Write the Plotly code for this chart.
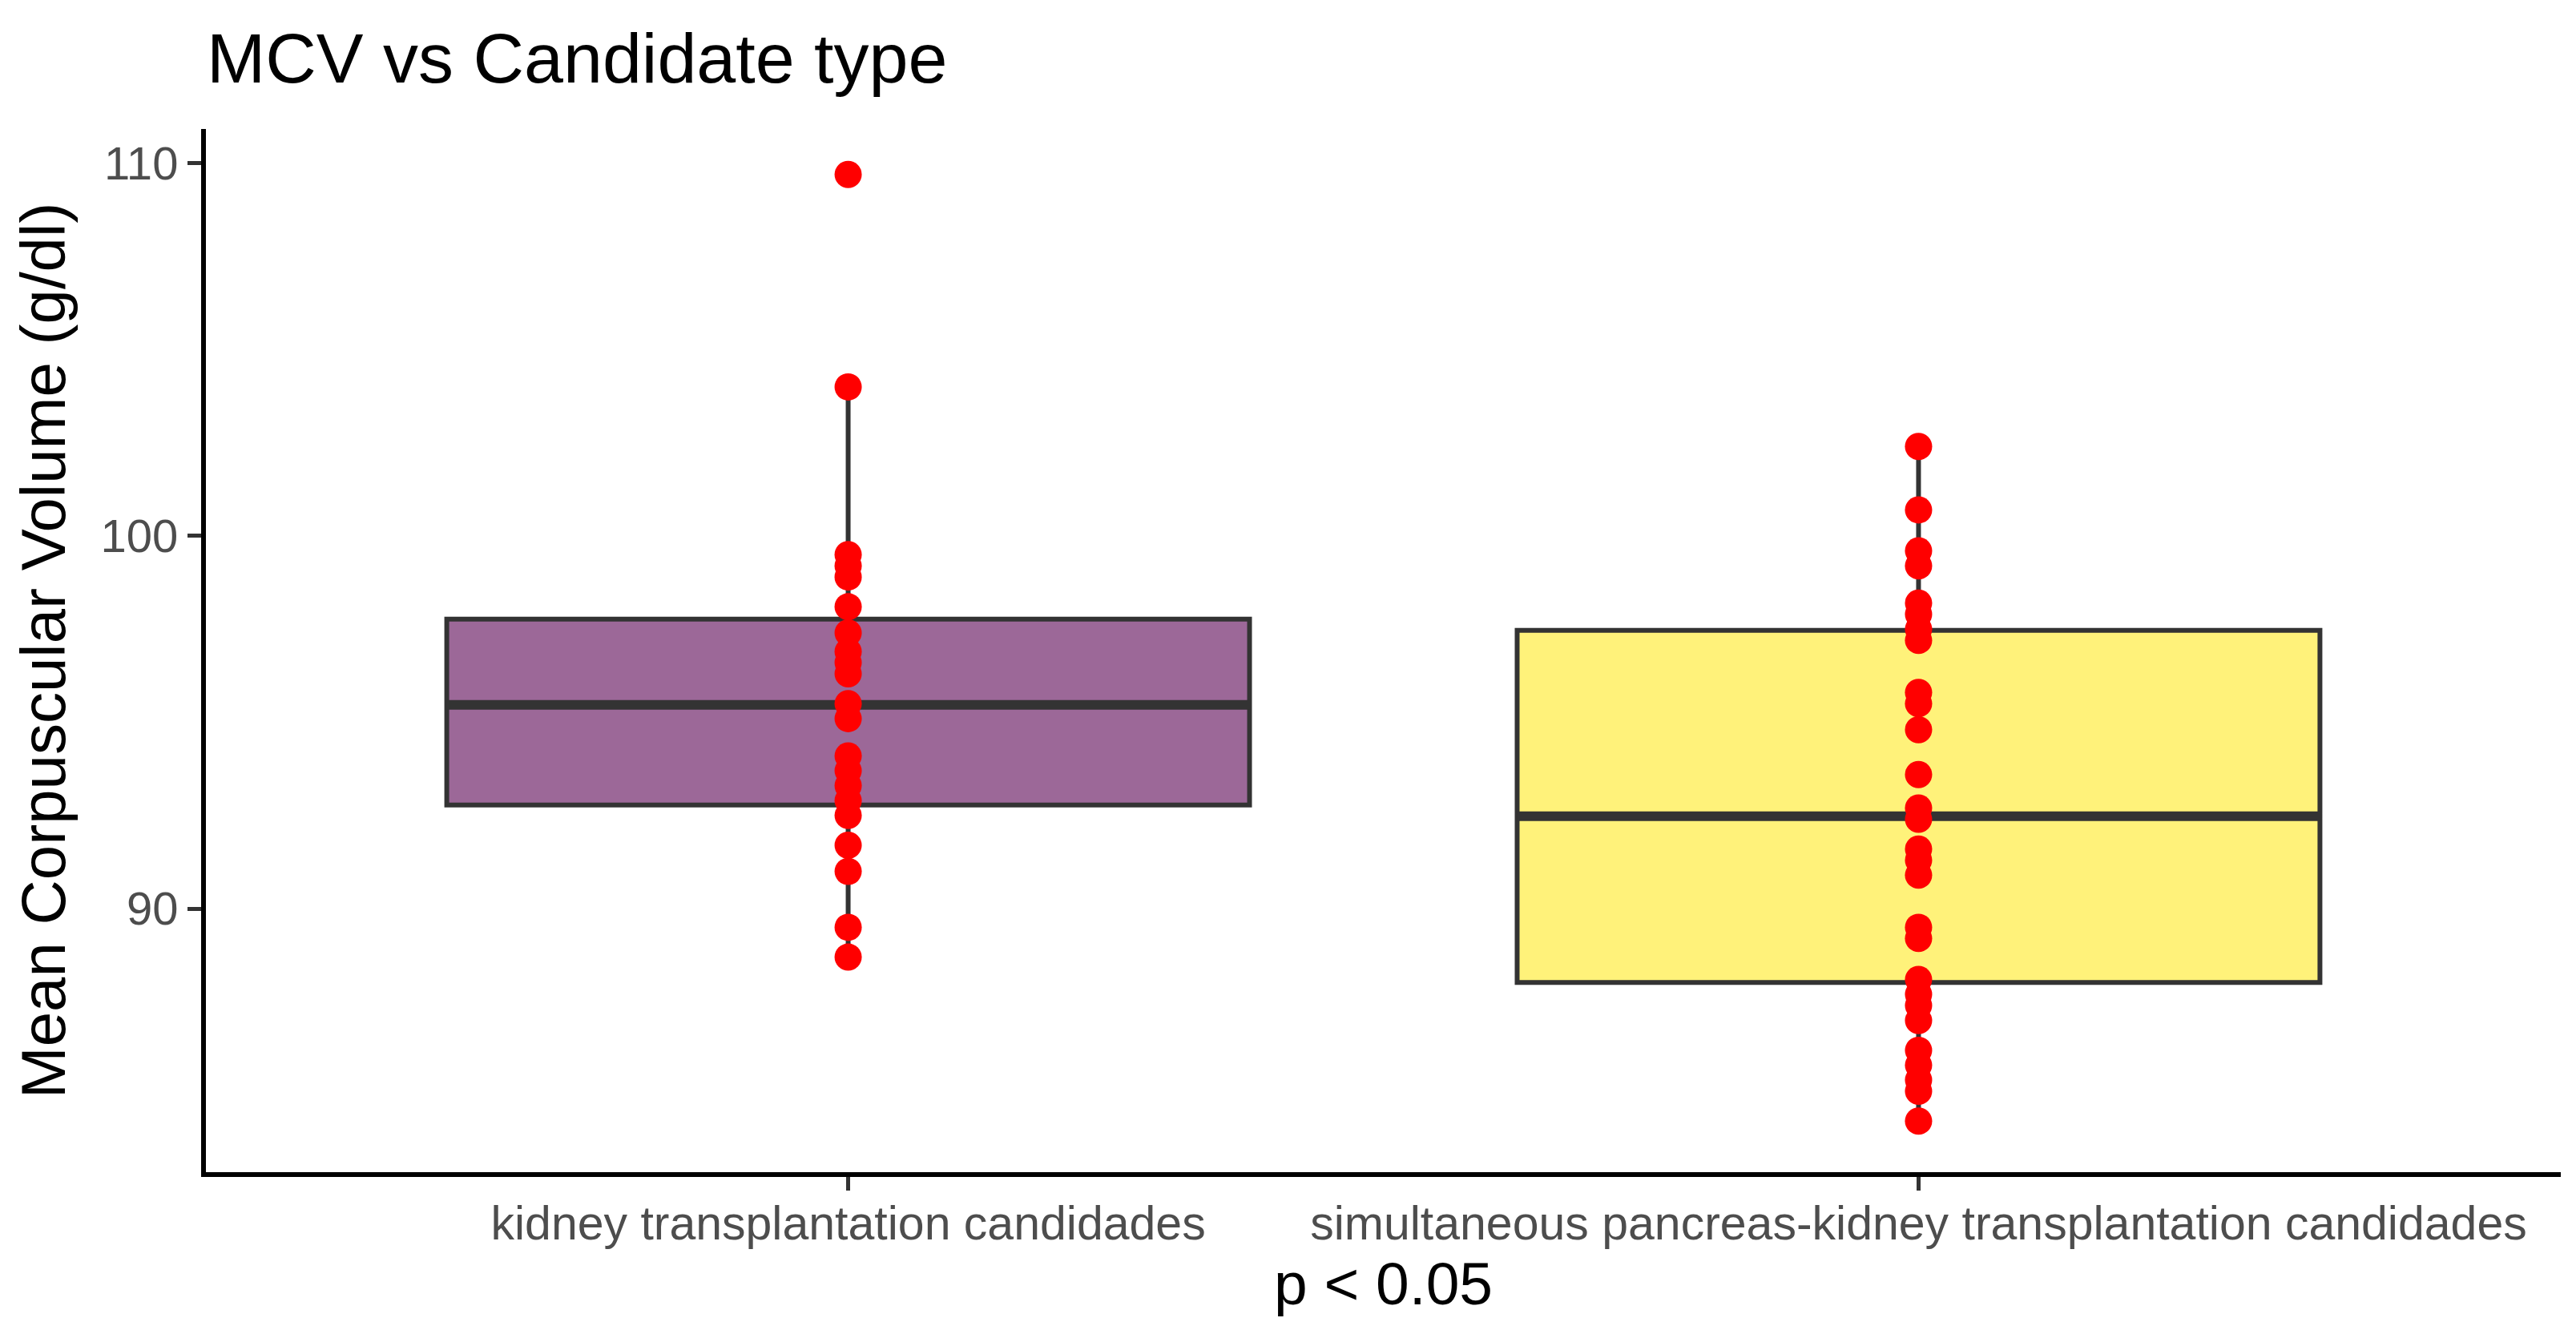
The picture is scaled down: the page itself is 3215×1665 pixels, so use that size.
"""MCV by candidate type: box summary with the raw points on top."""
import plotly.graph_objects as go

FONT = "Liberation Sans, Arial, sans-serif"

CATEGORIES = [
    "kidney transplantation candidades",
    "simultaneous pancreas-kidney transplantation candidades",
]
BOX_COLORS = ["rgb(156,104,152)", "rgb(255,242,122)"]

# box summaries
Q1 = [92.78, 88.02]
MEDIAN = [95.47, 92.48]
Q3 = [97.77, 97.47]
WHISKER_LOW = [88.7, 84.3]
WHISKER_HIGH = [104.0, 102.4]

KIDNEY_MCV = [
    109.7, 104.0, 99.5, 99.2, 98.9, 98.1, 97.4, 96.9, 96.6, 96.3, 95.5,
    95.1, 94.1, 93.7, 93.3, 92.9, 92.5, 91.7, 91.0, 89.5, 88.7,
]
SPK_MCV = [
    102.4, 100.7, 99.6, 99.2, 98.2, 97.9, 97.5, 97.2, 95.8, 95.5, 94.8,
    93.6, 92.7, 92.4, 91.6, 91.3, 90.9, 89.5, 89.2, 88.1, 87.7, 87.4,
    87.0, 86.2, 85.8, 85.4, 85.1, 84.3,
]
POINTS = [KIDNEY_MCV, SPK_MCV]

Y_TICKS = [90, 100, 110]

fig = go.Figure()

for i, cat in enumerate(CATEGORIES):
    fig.add_trace(go.Box(
        x=[cat], q1=[Q1[i]], median=[MEDIAN[i]], q3=[Q3[i]],
        lowerfence=[WHISKER_LOW[i]], upperfence=[WHISKER_HIGH[i]],
        width=0.75, whiskerwidth=0,
        fillcolor=BOX_COLORS[i],
        line=dict(color="#333333", width=6),
        boxpoints=False, showlegend=False, hoverinfo="skip",
    ))
    # thicker median bar, as ggplot draws it
    fig.add_trace(go.Box(
        x=[cat], q1=[MEDIAN[i]], median=[MEDIAN[i]], q3=[MEDIAN[i]],
        lowerfence=[MEDIAN[i]], upperfence=[MEDIAN[i]],
        width=0.75, whiskerwidth=0,
        fillcolor="rgba(0,0,0,0)",
        line=dict(color="#333333", width=12),
        boxpoints=False, showlegend=False, hoverinfo="skip",
    ))

for i, cat in enumerate(CATEGORIES):
    fig.add_trace(go.Scatter(
        x=[cat] * len(POINTS[i]), y=POINTS[i], mode="markers",
        marker=dict(color="#ff0000", size=34, line=dict(width=0)),
        showlegend=False,
    ))

fig.update_xaxes(
    type="category", range=[-0.6, 1.6],
    showline=True, linecolor="black", linewidth=6,
    ticks="outside", ticklen=17, tickwidth=5, tickcolor="#333333",
    ticklabelstandoff=-10,
    tickfont=dict(family=FONT, size=59, color="#4d4d4d"),
    showgrid=False, zeroline=False,
    title=dict(text="p < 0.05", font=dict(family=FONT, size=75, color="black"),
               standoff=0),
)
fig.update_yaxes(
    range=[82.93, 110.92], tickvals=Y_TICKS,
    showline=True, linecolor="black", linewidth=6,
    ticks="outside", ticklen=17, tickwidth=5, tickcolor="#333333",
    tickfont=dict(family=FONT, size=58, color="#4d4d4d"),
    showgrid=False, zeroline=False,
    title=dict(text="Mean Corpuscular Volume (g/dl)",
               font=dict(family=FONT, size=78, color="black"), standoff=20),
)

fig.update_layout(
    width=3215, height=1665,
    boxmode="overlay",
    plot_bgcolor="white", paper_bgcolor="white",
    font=dict(family=FONT),
    title=dict(
        text="MCV vs Candidate type",
        font=dict(family=FONT, size=88, color="black"),
        xref="container", x=250 / 3215, xanchor="left",
        yref="container", y=1 - 64 / 1665, yanchor="middle",
    ),
    margin=dict(l=249, r=27, t=153, b=210),
)

fig.write_html("out.html")
